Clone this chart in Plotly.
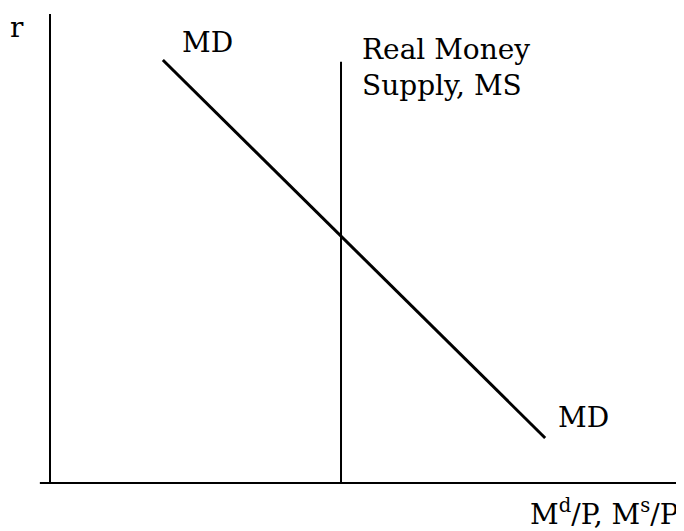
import plotly.graph_objects as go

# Data (abstract units: quantity of real money on x, interest rate r on y)
md_quantity = [1.78, 7.81]
md_rate = [9.02, 0.96]
ms_quantity = [4.59, 4.59]
ms_rate = [-0.05, 8.98]

x_title = "M<sup>d</sup>/P, M<sup>s</sup>/P"
y_title = "r"
md_label = "MD"
ms_label = "Real Money<br>Supply, MS"

FONT = "DejaVu Serif"

fig = go.Figure()
fig.add_trace(go.Scatter(x=md_quantity, y=md_rate, mode="lines",
                         line=dict(color="black", width=3), hoverinfo="skip",
                         cliponaxis=False))
fig.add_trace(go.Scatter(x=ms_quantity, y=ms_rate, mode="lines",
                         line=dict(color="black", width=2), hoverinfo="skip",
                         cliponaxis=False))

# axes as lines
fig.add_shape(type="line", xref="paper", yref="paper", x0=-0.016, x1=1, y0=0, y1=0,
              line=dict(color="black", width=2))
fig.add_shape(type="line", xref="paper", yref="paper", x0=0, x1=0, y0=0, y1=1,
              line=dict(color="black", width=2))

ann_font = dict(family=FONT, size=28, color="black")
fig.add_annotation(text=y_title, xref="paper", yref="paper", x=-0.052, y=0.972,
                   showarrow=False, xanchor="center", yanchor="middle", font=ann_font)
fig.add_annotation(text=md_label, x=md_quantity[0] + 0.71, y=md_rate[0] + 0.38,
                   showarrow=False, xanchor="center", yanchor="middle", font=ann_font)
fig.add_annotation(text=md_label, x=md_quantity[1] + 0.6, y=md_rate[1] + 0.43,
                   showarrow=False, xanchor="center", yanchor="middle", font=ann_font)
fig.add_annotation(text=ms_label, x=ms_quantity[0] + 0.3, y=9.64,
                   showarrow=False, xanchor="left", yanchor="top", align="left", font=ann_font)
fig.add_annotation(text=x_title, xref="paper", yref="paper", x=0.995, y=-0.062,
                   showarrow=False, xanchor="right", yanchor="middle", font=ann_font)

fig.update_xaxes(range=[0, 10], showgrid=False, zeroline=False, showticklabels=False,
                 ticks="", showline=False)
fig.update_yaxes(range=[0, 10], showgrid=False, zeroline=False, showticklabels=False,
                 ticks="", showline=False)
fig.update_layout(width=676, height=523, margin=dict(l=42, r=0, t=6, b=48),
                  plot_bgcolor="white", paper_bgcolor="white", showlegend=False)
fig.write_html("out.html")
